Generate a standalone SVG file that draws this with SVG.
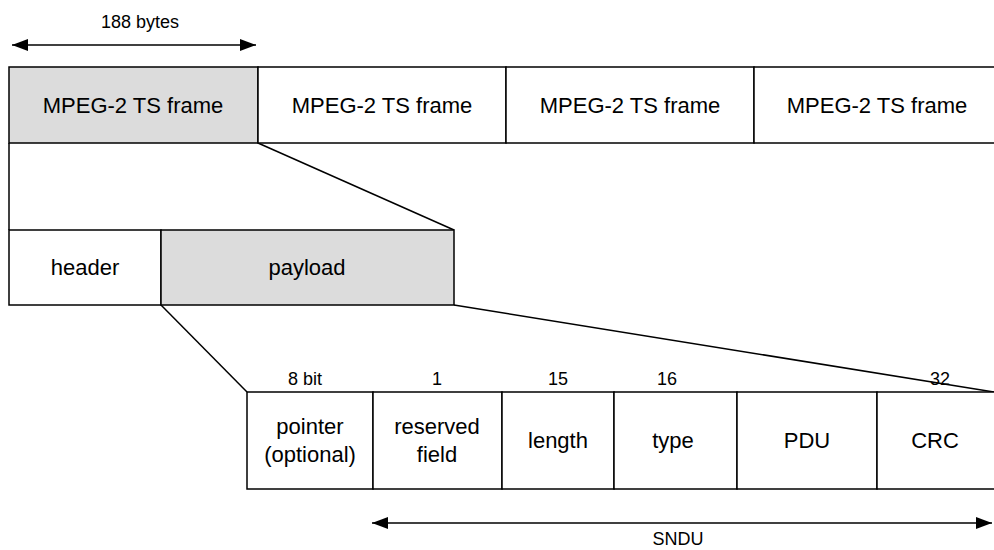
<svg xmlns="http://www.w3.org/2000/svg" width="994" height="550" viewBox="0 0 994 550">
<defs>
<marker id="ah" viewBox="0 0 16 12" refX="16" refY="6" markerWidth="16" markerHeight="12" markerUnits="userSpaceOnUse" orient="auto-start-reverse">
<path d="M0,0 L16,6 L0,12 z" fill="#000"/>
</marker>
<style>
.box{stroke:#000;stroke-width:1.5;fill:#fff}
.gray{fill:#dcdcdc}
.t{font-family:"Liberation Sans",Arial,sans-serif;font-size:22px;fill:#000;text-anchor:middle}
.s{font-family:"Liberation Sans",Arial,sans-serif;font-size:18px;fill:#000;text-anchor:middle}
.ln{stroke:#000;stroke-width:1.5;fill:none}
</style>
</defs>
<rect width="994" height="550" fill="#fff"/>
<g id="connectors">
<line class="ln" x1="9" y1="143" x2="9" y2="230"/>
<line class="ln" x1="258" y1="143" x2="454" y2="230"/>
<line class="ln" x1="161" y1="305" x2="247" y2="392"/>
<line class="ln" x1="454" y1="305" x2="994" y2="392"/>
<line class="ln" x1="12" y1="45" x2="256" y2="45" marker-start="url(#ah)" marker-end="url(#ah)"/>
<line class="ln" x1="372" y1="523" x2="992" y2="523" marker-start="url(#ah)" marker-end="url(#ah)"/>
</g>
<g id="dim188"><text class="s" x="140" y="28">188 bytes</text></g>
<g id="ts1"><rect class="box gray" x="9" y="67" width="249" height="76"/><text class="t" x="133" y="113">MPEG-2 TS frame</text></g>
<g id="ts2"><rect class="box" x="258" y="67" width="248" height="76"/><text class="t" x="382" y="113">MPEG-2 TS frame</text></g>
<g id="ts3"><rect class="box" x="506" y="67" width="248" height="76"/><text class="t" x="630" y="113">MPEG-2 TS frame</text></g>
<g id="ts4"><rect class="box" x="754" y="67" width="241" height="76"/><text class="t" x="877" y="113">MPEG-2 TS frame</text></g>
<g id="header"><rect class="box" x="9" y="230" width="152" height="75"/><text class="t" x="85" y="275">header</text></g>
<g id="payload"><rect class="box gray" x="161" y="230" width="293" height="75"/><text class="t" x="307" y="275">payload</text></g>
<g id="pointer"><rect class="box" x="247" y="392" width="126" height="97"/><text class="t" x="310" y="434">pointer</text><text class="t" x="310" y="462">(optional)</text><text class="s" x="305" y="385">8 bit</text></g>
<g id="reserved"><rect class="box" x="373" y="392" width="129" height="97"/><text class="t" x="437" y="434">reserved</text><text class="t" x="437" y="462">field</text><text class="s" x="437" y="385">1</text></g>
<g id="length"><rect class="box" x="502" y="392" width="112" height="97"/><text class="t" x="558" y="448">length</text><text class="s" x="558" y="385">15</text></g>
<g id="type"><rect class="box" x="614" y="392" width="123" height="97"/><text class="t" x="673" y="448">type</text><text class="s" x="667" y="385">16</text></g>
<g id="pdu"><rect class="box" x="737" y="392" width="140" height="97"/><text class="t" x="807" y="448">PDU</text></g>
<g id="crc"><rect class="box" x="877" y="392" width="118" height="97"/><text class="t" x="935" y="448">CRC</text><text class="s" x="940" y="385">32</text></g>
<g id="sndu"><text class="s" x="678" y="545">SNDU</text></g>
</svg>
